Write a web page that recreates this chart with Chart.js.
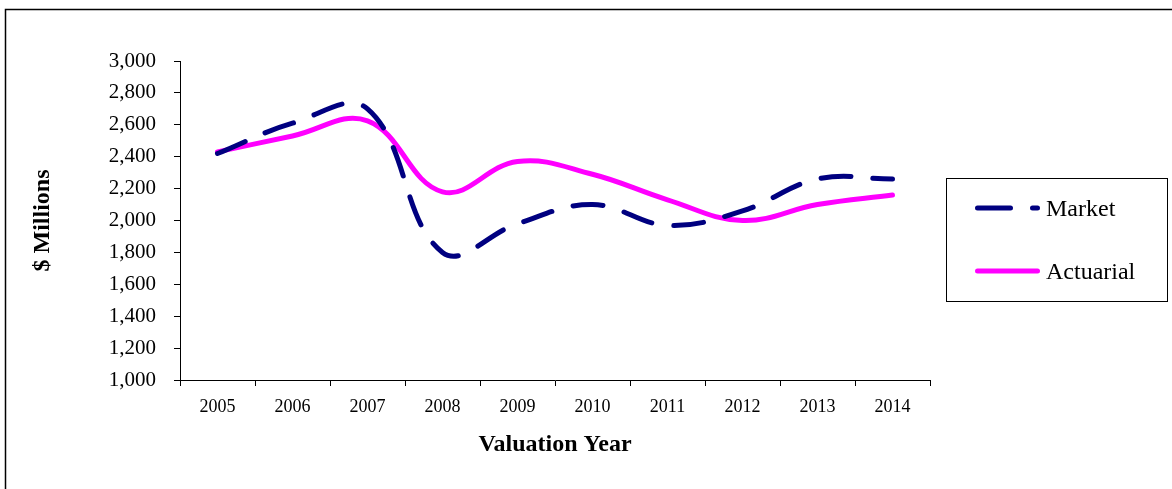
<!DOCTYPE html>
<html>
<head>
<meta charset="utf-8">
<script src="https://cdn.jsdelivr.net/npm/chart.js@4"></script>
<style>
  body { margin: 0; background: #fff; }
  #wrap { width: 1172px; height: 489px; }
</style>
</head>
<body>
<div id="wrap"><canvas id="valuation-chart" width="1172" height="489"></canvas></div>
<script>
// values ($ millions)
var years = ['2005', '2006', '2007', '2008', '2009', '2010', '2011', '2012', '2013', '2014'];
var market = [2420, 2610, 2700, 1800, 1980, 2100, 1970, 2060, 2260, 2260];
var actuarial = [2430, 2530, 2625, 2180, 2370, 2290, 2130, 2000, 2100, 2160];
var yTicks = [1000, 1200, 1400, 1600, 1800, 2000, 2200, 2400, 2600, 2800, 3000];

var serif = "'Liberation Serif', 'Times New Roman', serif";

// frame round the whole chart + boxed legend on the right
var framePlugin = {
    id: 'frame',
    beforeDraw: function(chart) {
        var ctx = chart.ctx;
        ctx.save();
        ctx.fillStyle = '#fff';
        ctx.fillRect(0, 0, chart.width, chart.height);
        ctx.strokeStyle = '#000';
        ctx.lineWidth = 1.5;
        ctx.strokeRect(5.5, 9.5, chart.width + 20, chart.height + 20);
        ctx.restore();
    },
    afterDraw: function(chart) {
        var ctx = chart.ctx;
        var sets = chart.data.datasets;
        ctx.save();
        ctx.strokeStyle = '#000';
        ctx.lineWidth = 1;
        ctx.strokeRect(946.5, 178.5, 221, 123);
        ctx.font = '24px ' + serif;
        ctx.textBaseline = 'middle';
        ctx.fillStyle = '#000';
        var rows = [208, 271];
        for (var i = 0; i < sets.length; i++) {
            var y = rows[i];
            ctx.strokeStyle = sets[i].borderColor;
            ctx.lineWidth = sets[i].borderWidth;
            ctx.lineCap = 'round';
            ctx.setLineDash(sets[i].borderDash ? [33, 22] : []);
            ctx.beginPath();
            ctx.moveTo(977.5, y);
            ctx.lineTo(1037.5, y);
            ctx.stroke();
            ctx.setLineDash([]);
            ctx.fillText(sets[i].label, 1046, y + 2);
        }
        ctx.restore();
    }
};

new Chart(document.getElementById('valuation-chart'), {
    type: 'line',
    data: {
        labels: years,
        datasets: [{
            label: 'Market',
            data: market,
            borderColor: '#000080',
            borderWidth: 5,
            borderDash: [30, 22],
            borderCapStyle: 'round',
            tension: 0.4,
            pointRadius: 0,
            fill: false
        }, {
            label: 'Actuarial',
            data: actuarial,
            borderColor: '#ff00ff',
            borderWidth: 5,
            borderCapStyle: 'round',
            tension: 0.4,
            pointRadius: 0,
            fill: false
        }]
    },
    options: {
        responsive: false,
        animation: false,
        layout: { padding: { top: 61, right: 242, left: 0, bottom: 0 } },
        plugins: {
            legend: { display: false },
            tooltip: { enabled: false }
        },
        scales: {
            x: {
                offset: true,
                grid: { offset: true, drawOnChartArea: false, drawTicks: true, tickLength: 6, color: '#000', lineWidth: 1 },
                border: { display: true, color: '#000', width: 1 },
                ticks: { color: '#000', font: { family: serif, size: 18 }, padding: 10, maxRotation: 0 },
                title: {
                    display: true,
                    text: 'Valuation Year',
                    color: '#000',
                    font: { family: serif, size: 24, weight: 'bold' },
                    padding: { top: 0, bottom: 30 }
                },
                afterFit: function(scale) { scale.height = 109; }
            },
            y: {
                min: yTicks[0],
                max: yTicks[yTicks.length - 1],
                afterBuildTicks: function(scale) {
                    scale.ticks = yTicks.map(function(v) { return { value: v }; });
                },
                grid: { drawOnChartArea: false, drawTicks: true, tickLength: 6, color: '#000', lineWidth: 1 },
                border: { display: true, color: '#000', width: 1 },
                ticks: {
                    color: '#000',
                    font: { family: serif, size: 21 },
                    padding: 18,
                    callback: function(v) { return v.toLocaleString('en-US'); }
                },
                title: {
                    display: true,
                    text: '$ Millions',
                    color: '#000',
                    font: { family: serif, size: 24, weight: 'bold' },
                    padding: { top: 28, bottom: 0 }
                },
                afterFit: function(scale) { scale.width = 180; }
            }
        }
    },
    plugins: [framePlugin]
});
</script>
</body>
</html>
